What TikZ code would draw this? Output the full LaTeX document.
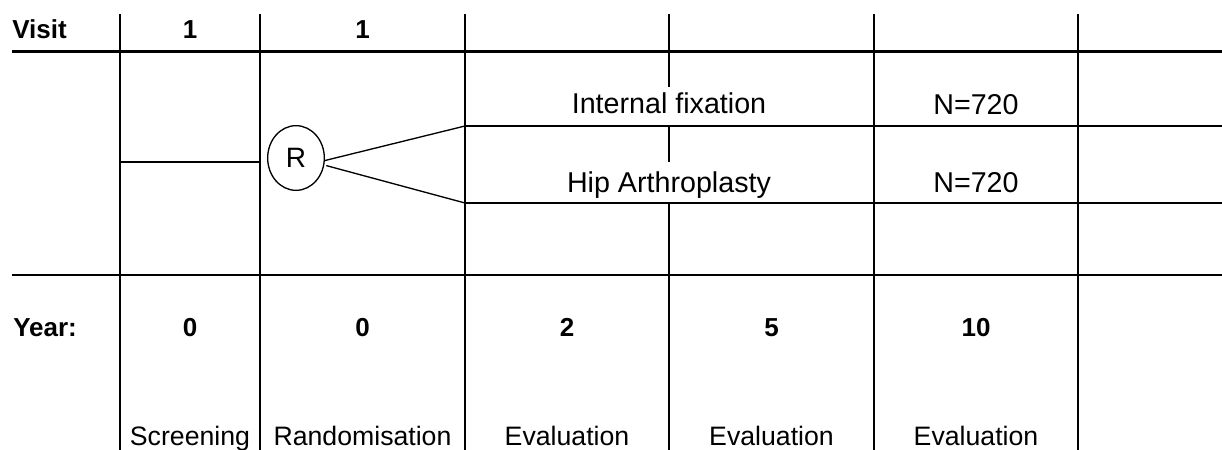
\documentclass[tikz,border=0pt]{standalone}
\usepackage{fontspec}
\setmainfont{Liberation Sans}
\usetikzlibrary{shapes.geometric}
\tikzset{
  rule/.style ={draw=black, line width=1.7pt},
  ln/.style   ={draw=black, line width=1pt},
  hd/.style   ={inner sep=0pt, anchor=base, font=\fontsize{19.5}{23}\selectfont\bfseries},
  tx/.style   ={inner sep=0pt, anchor=base, font=\fontsize{20}{24}\selectfont},
  arm/.style  ={tx, font=\fontsize{21.5}{25}\selectfont},
  rnd/.style  ={ellipse, draw=black, line width=1pt, minimum width=42.5pt,
                minimum height=48.5pt, inner sep=0pt, font=\fontsize{21}{25}\selectfont},
}
\begin{document}
\begin{tikzpicture}[x=0.75pt, y=-0.75pt]
\useasboundingbox (0,0) rectangle (1222,450);
% grid of the schedule
\foreach \gx in {120,260,465,874,1078} \draw[rule] (\gx,14) -- (\gx,450);
\foreach \ya/\yb in {14/87, 126/162, 203/450} \draw[rule] (669,\ya) -- (669,\yb);
\draw[rule] (12,51.5) -- (1222,51.5);
\draw[rule] (12,275) -- (1222,275);
\draw[rule] (120,162) -- (260,162);
\coordinate (fixT) at (465,126);
\coordinate (hipT) at (465,203);
\draw[rule] (fixT) -- (1222,126);
\draw[rule] (hipT) -- (1222,203);
% header rows
\node[hd, anchor=base west] (visit) at (12,38.5) {Visit};
\node[hd] (v1) at (190,38.5) {1};
\node[hd] (v2) at (362.5,38.5) {1};
\node[hd, anchor=base west] (year) at (13,336.5) {Year:};
\foreach \cx/\yr/\what [count=\i] in {190/0/Screening, 362.5/0/Randomisation,
    567/2/Evaluation, 771.5/5/Evaluation, 976/10/Evaluation} {
  \node[hd] (yr\i) at (\cx,336.5) {\yr};
  \node[tx] (st\i) at (\cx,445) {\what};
}
% arms
\node[rnd] (R) at (296,158) {R};
\node[arm] (fix) at (669,113.5) {Internal fixation};
\node[arm] (hip) at (669,192) {Hip Arthroplasty};
\node[arm] (nfix) at (976,114) {N=720};
\node[arm] (nhip) at (976,192) {N=720};
\draw[ln] (R.-5) -- (fixT);
\draw[ln, shorten <=1.5pt] (R.-14) -- (hipT);
\end{tikzpicture}
\end{document}
